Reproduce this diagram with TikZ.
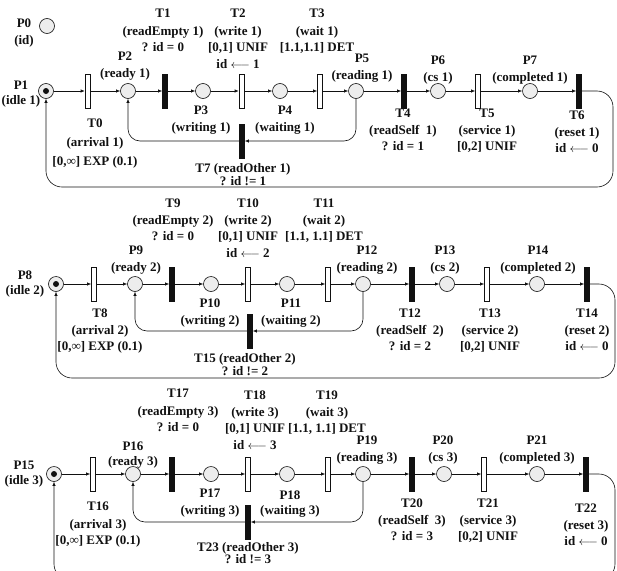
\documentclass[tikz,border=0pt]{standalone}
\usepackage{fontspec}
\setmainfont{Liberation Serif}
\usetikzlibrary{arrows.meta}
\definecolor{ink}{HTML}{111111}
\definecolor{mist}{HTML}{EDEDED}

\begin{document}
\begin{tikzpicture}[x=1pt,y=-1pt,font=\fontsize{13}{16.5}\selectfont\bfseries,
    text=ink,draw=ink,line width=.6pt,>={Latex[length=4pt,width=3.4pt]},
    place/.style={draw=ink,circle,fill=mist,minimum size=15pt,inner sep=0pt},
    token/.style={circle,fill=ink,minimum size=6pt,inner sep=0pt},
    slot/.style={draw=ink,fill=white,minimum width=5pt,minimum height=34pt,inner sep=0pt},
    imm/.style={draw=ink,fill=ink,minimum width=5pt,minimum height=34pt,inner sep=0pt},
    lab/.style={align=center,inner sep=0pt,anchor=north}]
  \useasboundingbox (0,0) rectangle (617,570);
  % shared place
  \node[place] (P0) at (47,26) {};
  \node[lab] (lP0) at (24,19) {P0\\(id)};
  % process 1
  \node[place] (P1) at (46,91) {};
  \node[token] (K1) at (P1) {};
  \node[lab] (lP1) at (21,81) {P1\\[-2pt](idle 1)};
  \node[slot] (T0) at (87.5,91) {};
  \node[lab] (lT0) at (95,119) {T0\\[2pt](arrival 1)\\[3pt]{[0,∞]} EXP (0.1)};
  \node[place] (P2) at (128,91) {};
  \node[lab] (lP2) at (125,52) {P2\\(ready 1)};
  \node[imm] (T1) at (165,91) {};
  \node[lab] (lT1) at (163,9) {T1\\[1pt](readEmpty 1)\\? id = 0};
  \node[place] (P3) at (203,91) {};
  \node[lab] (lP3) at (201,106) {P3\\(writing 1)};
  \node[slot] (T2) at (241.5,91) {};
  \node[lab] (lT2) at (238,9) {T2\\[1pt](write 1)\\{[0,1]} UNIF\\id $\longleftarrow$ 1};
  \node[place] (P4) at (280,91) {};
  \node[lab] (lP4) at (285,106) {P4\\(waiting 1)};
  \node[slot] (T3) at (320,91) {};
  \node[lab] (lT3) at (317,9) {T3\\[1pt](wait 1)\\{[1.1,1.1]} DET};
  \node[place] (P5) at (356,91) {};
  \node[lab] (lP5) at (362,54) {P5\\(reading 1)};
  \node[imm] (T4) at (404,91) {};
  \node[lab] (lT4) at (403,109) {T4\\(readSelf~~1)\\? id = 1};
  \node[place] (P6) at (438,91) {};
  \node[lab] (lP6) at (438,56) {P6\\(cs 1)};
  \node[slot] (T5) at (478,91) {};
  \node[lab] (lT5) at (487,109) {T5\\(service 1)\\{[0,2]} UNIF};
  \node[place] (P7) at (530,91) {};
  \node[lab] (lP7) at (530,56) {P7\\(completed 1)};
  \node[imm] (T6) at (579,91) {};
  \node[lab] (lT6) at (577,111) {T6\\(reset 1)\\id $\longleftarrow$ 0};
  \node[imm] (T7) at (242,141) {};
  \node[lab] (lT7) at (243,163) {T7 (readOther 1)\\[-3pt]? id != 1};
  \coordinate (R1) at (613,187);
  \draw[->] (P1) -- (T0);
  \draw[->] (T0) -- (P2);
  \draw[->] (P2) -- (T1);
  \draw[->] (T1) -- (P3);
  \draw[->] (P3) -- (T2);
  \draw[->] (T2) -- (P4);
  \draw[->] (P4) -- (T3);
  \draw[->] (T3) -- (P5);
  \draw[->] (P5) -- (T4);
  \draw[->] (T4) -- (P6);
  \draw[->] (P6) -- (T5);
  \draw[->] (T5) -- (P7);
  \draw[->] (P7) -- (T6);
  \draw[->,rounded corners=12pt] (P5.south) |- (T7.east);
  \draw[->,rounded corners=12pt] (T7.west) -| (P2.south);
  \draw[->,rounded corners=16pt] (T6.east) -| (R1) -| (P1.south);
  % process 2
  \node[place] (P8) at (56,284) {};
  \node[token] (K8) at (P8) {};
  \node[lab] (lP8) at (25,271) {P8\\[-2pt](idle 2)};
  \node[slot] (T8) at (94,284) {};
  \node[lab] (lT8) at (100,309) {T8\\(arrival 2)\\{[0,∞]} EXP (0.1)};
  \node[place] (P9) at (135,284) {};
  \node[lab] (lP9) at (136,246) {P9\\(ready 2)};
  \node[imm] (T9) at (172,284) {};
  \node[lab] (lT9) at (173,199) {T9\\(readEmpty 2)\\? id = 0};
  \node[place] (P10) at (211,284) {};
  \node[lab] (lP10) at (210,299) {P10\\(writing 2)};
  \node[slot] (T10) at (248,284) {};
  \node[lab] (lT10) at (248,199) {T10\\(write 2)\\{[0,1]} UNIF\\id $\longleftarrow$ 2};
  \node[place] (P11) at (287,284) {};
  \node[lab] (lP11) at (291,299) {P11\\(waiting 2)};
  \node[slot] (T11) at (328,284) {};
  \node[lab] (lT11) at (324,199) {T11\\(wait 2)\\{[1.1, 1.1]} DET};
  \node[place] (P12) at (363,284) {};
  \node[lab] (lP12) at (367,246) {P12\\(reading 2)};
  \node[imm] (T12) at (412,284) {};
  \node[lab] (lT12) at (410,309) {T12\\(readSelf~~2)\\? id = 2};
  \node[place] (P13) at (447,284) {};
  \node[lab] (lP13) at (445,246) {P13\\(cs 2)};
  \node[slot] (T13) at (487,284) {};
  \node[lab] (lT13) at (490,309) {T13\\(service 2)\\{[0,2]} UNIF};
  \node[place] (P14) at (537,284) {};
  \node[lab] (lP14) at (538,246) {P14\\(completed 2)};
  \node[imm] (T14) at (587,284) {};
  \node[lab] (lT14) at (587,309) {T14\\(reset 2)\\id $\longleftarrow$ 0};
  \node[imm] (T15) at (250,331) {};
  \node[lab] (lT15) at (245,353) {T15 (readOther 2)\\[-3pt]? id != 2};
  \coordinate (R2) at (615,378);
  \draw[->] (P8) -- (T8);
  \draw[->] (T8) -- (P9);
  \draw[->] (P9) -- (T9);
  \draw[->] (T9) -- (P10);
  \draw[->] (P10) -- (T10);
  \draw[->] (T10) -- (P11);
  \draw[->] (P11) -- (T11);
  \draw[->] (T11) -- (P12);
  \draw[->] (P12) -- (T12);
  \draw[->] (T12) -- (P13);
  \draw[->] (P13) -- (T13);
  \draw[->] (T13) -- (P14);
  \draw[->] (P14) -- (T14);
  \draw[->,rounded corners=12pt] (P12.south) |- (T15.east);
  \draw[->,rounded corners=12pt] (T15.west) -| (P9.south);
  \draw[->,rounded corners=16pt] (T14.east) -| (R2) -| (P8.south);
  % process 3
  \node[place] (P15) at (54,474) {};
  \node[token] (K15) at (P15) {};
  \node[lab] (lP15) at (24,461) {P15\\[-2pt](idle 3)};
  \node[slot] (T16) at (93,474) {};
  \node[lab] (lT16) at (98,502) {T16\\[1pt](arrival 3)\\{[0,∞]} EXP (0.1)};
  \node[place] (P16) at (133,474) {};
  \node[lab] (lP16) at (133,442) {P16\\[-2pt](ready 3)};
  \node[imm] (T17) at (172,474) {};
  \node[lab] (lT17) at (178,389) {T17\\[1pt](readEmpty 3)\\? id = 0};
  \node[place] (P17) at (211,474) {};
  \node[lab] (lP17) at (210,489) {P17\\(writing 3)};
  \node[slot] (T18) at (248,474) {};
  \node[lab] (lT18) at (255,391) {T18\\(write 3)\\{[0,1]} UNIF\\id $\longleftarrow$ 3};
  \node[place] (P18) at (287,474) {};
  \node[lab] (lP18) at (290,491) {P18\\[-2pt](waiting 3)};
  \node[slot] (T19) at (328,474) {};
  \node[lab] (lT19) at (327,391) {T19\\(wait 3)\\{[1.1, 1.1]} DET};
  \node[place] (P19) at (363,474) {};
  \node[lab] (lP19) at (367,436) {P19\\(reading 3)};
  \node[imm] (T20) at (412,474) {};
  \node[lab] (lT20) at (412,499) {T20\\(readSelf~~3)\\? id = 3};
  \node[place] (P20) at (444,474) {};
  \node[lab] (lP20) at (443,436) {P20\\(cs 3)};
  \node[slot] (T21) at (484,474) {};
  \node[lab] (lT21) at (488,499) {T21\\(service 3)\\{[0,2]} UNIF};
  \node[place] (P21) at (537,474) {};
  \node[lab] (lP21) at (537,436) {P21\\(completed 3)};
  \node[imm] (T22) at (586,474) {};
  \node[lab] (lT22) at (586,504) {T22\\(reset 3)\\id $\longleftarrow$ 0};
  \node[imm] (T23) at (248,522) {};
  \node[lab] (lT23) at (248,542) {T23 (readOther 3)\\[-4pt]? id != 3};
  \coordinate (R3) at (615,580);
  \draw[->] (P15) -- (T16);
  \draw[->] (T16) -- (P16);
  \draw[->] (P16) -- (T17);
  \draw[->] (T17) -- (P17);
  \draw[->] (P17) -- (T18);
  \draw[->] (T18) -- (P18);
  \draw[->] (P18) -- (T19);
  \draw[->] (T19) -- (P19);
  \draw[->] (P19) -- (T20);
  \draw[->] (T20) -- (P20);
  \draw[->] (P20) -- (T21);
  \draw[->] (T21) -- (P21);
  \draw[->] (P21) -- (T22);
  \draw[->,rounded corners=12pt] (P19.south) |- (T23.east);
  \draw[->,rounded corners=12pt] (T23.west) -| (P16.south);
  \draw[->,rounded corners=16pt] (T22.east) -| (R3) -| (P15.south);
\end{tikzpicture}
\end{document}
